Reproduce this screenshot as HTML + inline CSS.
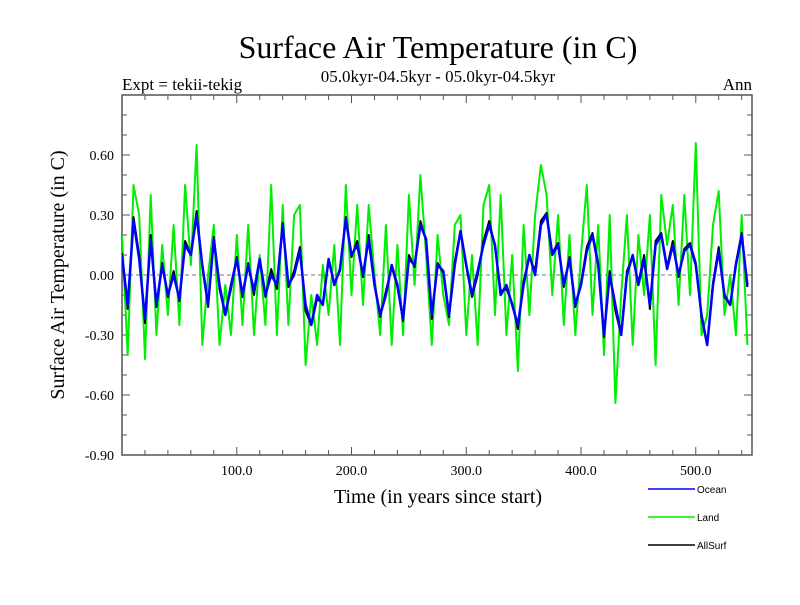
<!DOCTYPE html>
<html><head><meta charset="utf-8"><style>
body{margin:0;background:#fff}
svg text{font-family:"Liberation Serif",serif}
svg text.sans{font-family:"Liberation Sans",sans-serif}
</style></head><body>
<svg id="c" width="800" height="600" xmlns="http://www.w3.org/2000/svg">
<rect width="800" height="600" fill="#fff"/>
<text x="438" y="58" font-size="32" text-anchor="middle">Surface Air Temperature (in C)</text>
<text x="122" y="90" font-size="17">Expt = tekii-tekig</text>
<text x="438" y="82" font-size="17" text-anchor="middle">05.0kyr-04.5kyr - 05.0kyr-04.5kyr</text>
<text x="752" y="90" font-size="17" text-anchor="end">Ann</text>
<text transform="translate(64,275) rotate(-90)" font-size="20" text-anchor="middle">Surface Air Temperature (in C)</text>
<text x="438" y="503" font-size="20" text-anchor="middle">Time (in years since start)</text>
<g id="ax"></g>
<g id="plot"></g>
<g id="legend"></g>
</svg>
<script>
const years0 = 0, yearStep = 5;
const oceanValues = [0.1,-0.15,0.27,0.08,-0.22,0.18,-0.15,0.05,-0.1,0.0,-0.12,0.15,0.1,0.3,0.05,-0.15,0.18,-0.05,-0.2,-0.05,0.08,-0.1,0.05,-0.08,0.08,-0.1,0.0,-0.05,0.25,-0.05,0.0,0.12,-0.15,-0.25,-0.1,-0.15,0.08,-0.05,0.03,0.28,0.1,0.15,0.0,0.18,-0.05,-0.2,-0.1,0.05,-0.05,-0.22,0.08,0.05,0.25,0.18,-0.2,0.05,0.02,-0.2,0.05,0.22,0.05,-0.1,0.02,0.15,0.25,0.15,-0.1,-0.05,-0.15,-0.25,-0.05,0.1,0.0,0.25,0.3,0.1,0.15,-0.05,0.08,-0.15,-0.05,0.12,0.2,0.05,-0.3,0.0,-0.15,-0.3,0.0,0.1,-0.05,0.08,-0.15,0.15,0.2,0.03,0.15,0.0,0.12,0.15,0.05,-0.2,-0.35,-0.05,0.12,-0.1,-0.15,0.05,0.2,-0.05];
const landValues = [0.2,-0.4,0.45,0.3,-0.42,0.4,-0.3,0.15,-0.2,0.25,-0.25,0.45,0.05,0.65,-0.35,0.0,0.25,-0.35,-0.05,-0.3,0.2,-0.25,0.25,-0.3,0.1,-0.25,0.45,-0.3,0.35,-0.25,0.3,0.35,-0.45,-0.1,-0.35,0.05,-0.2,0.15,-0.35,0.45,-0.1,0.35,-0.15,0.35,0.0,-0.3,0.25,-0.35,0.15,-0.3,0.4,-0.05,0.5,0.1,-0.35,0.2,-0.1,-0.25,0.25,0.3,-0.3,0.1,-0.35,0.35,0.45,-0.2,0.4,-0.3,0.1,-0.48,0.25,-0.2,0.3,0.55,0.4,-0.1,0.3,-0.25,0.2,-0.3,0.1,0.45,-0.2,0.25,-0.4,0.3,-0.64,-0.1,0.3,-0.35,0.2,-0.1,0.3,-0.45,0.4,0.15,0.35,-0.15,0.4,-0.1,0.66,-0.3,-0.2,0.25,0.42,-0.2,0.0,-0.3,0.3,-0.35];
const allSurfValues = [0.11,-0.17,0.29,0.1,-0.24,0.2,-0.16,0.06,-0.11,0.02,-0.13,0.17,0.1,0.32,0.04,-0.16,0.19,-0.07,-0.2,-0.07,0.09,-0.11,0.06,-0.1,0.08,-0.11,0.03,-0.07,0.26,-0.06,0.02,0.14,-0.18,-0.25,-0.12,-0.14,0.07,-0.04,0.02,0.29,0.09,0.17,-0.01,0.2,-0.04,-0.21,-0.08,0.04,-0.06,-0.23,0.1,0.04,0.27,0.17,-0.22,0.06,0.01,-0.21,0.07,0.22,0.04,-0.11,0.0,0.17,0.27,0.14,-0.08,-0.07,-0.14,-0.27,-0.03,0.09,0.02,0.27,0.31,0.11,0.16,-0.06,0.09,-0.16,-0.04,0.14,0.21,0.06,-0.31,0.02,-0.18,-0.3,0.02,0.09,-0.04,0.1,-0.17,0.17,0.21,0.04,0.17,-0.01,0.13,0.16,0.06,-0.21,-0.35,-0.04,0.14,-0.11,-0.15,0.06,0.21,-0.06];
const yTicks = [-0.9,-0.6,-0.3,0.0,0.3,0.6];
const yTickLabels = ["-0.90","-0.60","-0.30","0.00","0.30","0.60"];
const xTicks = [100,200,300,400,500];
const xTickLabels = ["100.0","200.0","300.0","400.0","500.0"];
const legendNames = ["Ocean","Land","AllSurf"];
const legendColors = ["#0000ff","#00ee00","#000000"];

const L=122,R=752,T=95,B=455, X0=0, X1=549, Y0=-0.9, Y1=0.9;
const xs = v => L + (v-X0)/(X1-X0)*(R-L);
const ys = v => B - (v-Y0)/(Y1-Y0)*(B-T);
const NS="http://www.w3.org/2000/svg";
function mk(tag, attrs, parent){const e=document.createElementNS(NS,tag);for(const k in attrs)e.setAttribute(k,attrs[k]);parent.appendChild(e);return e;}
const ax=document.getElementById('ax'), plot=document.getElementById('plot'), lg=document.getElementById('legend');

const zl=mk('line',{x1:L,x2:R,y1:ys(0),y2:ys(0),stroke:'#777','stroke-dasharray':'4,3','stroke-width':1},ax);



function series(vals, step, color, w, name){
  const pts = vals.map((v,i)=>xs(years0+i*step).toFixed(1)+','+ys(v).toFixed(1)).join(' ');
  const p = mk('polyline',{points:pts,fill:'none',stroke:color,'stroke-width':w,'stroke-linejoin':'round'},plot);
  
  
}
const clip=mk('clipPath',{id:'cp'},document.getElementById('c'));
mk('rect',{x:L,y:T,width:R-L,height:B-T},clip);
plot.setAttribute('clip-path','url(#cp)');
series(landValues, yearStep, '#00ee00', 2, 'land-line');
series(allSurfValues, yearStep, '#000000', 2, 'allsurf-line');
series(oceanValues, yearStep, '#0000ff', 2.5, 'ocean-line');

const frame=mk('rect',{x:L,y:T,width:R-L,height:B-T,fill:'none',stroke:'#555','stroke-width':1.5},ax);



for(let v=-0.9; v<=0.9001; v+=0.1){
  const y=ys(v), major=Math.abs(Math.round(v*10)%3)===0;
  const len=major?8:5;
  mk('line',{x1:L,x2:L+len,y1:y,y2:y,stroke:'#555'},ax);
  mk('line',{x1:R,x2:R-len,y1:y,y2:y,stroke:'#555'},ax);
}
for(let v=20; v<X1; v+=20){
  const x=xs(v), major=v%100===0, len=major?8:5;
  mk('line',{x1:x,x2:x,y1:B,y2:B-len,stroke:'#555'},ax);
  mk('line',{x1:x,x2:x,y1:T,y2:T+len,stroke:'#555'},ax);
}
yTicks.forEach((v,i)=>{
  const t=mk('text',{x:L-8,y:ys(v)+5,'font-size':14,'text-anchor':'end'},ax);
  t.textContent=yTickLabels[i];
  
  
});
xTicks.forEach((v,i)=>{
  const t=mk('text',{x:xs(v),y:B+20,'font-size':14,'text-anchor':'middle'},ax);
  t.textContent=xTickLabels[i];
  
  
});
legendNames.forEach((n,i)=>{
  const y=489+i*28;
  const g=mk('g',{},lg);
  
  
  mk('line',{x1:648,x2:695,y1:y,y2:y,stroke:legendColors[i],'stroke-width':1.5},g);
  const t=mk('text',{x:697,y:y+4,'font-size':10,'class':'sans'},g);
  t.textContent=n;
});
</script>
</body></html>
